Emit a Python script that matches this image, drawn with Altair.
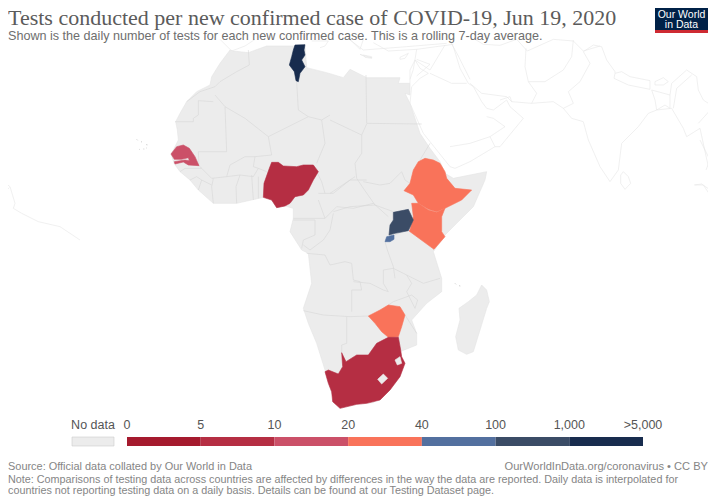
import altair as alt

TITLE = "Tests conducted per new confirmed case of COVID-19, Jun 19, 2020"
SUBTITLE = "Shown is the daily number of tests for each new confirmed case. This is a rolling 7-day average."
SOURCE = "Source: Official data collated by Our World in Data"
CREDIT = "OurWorldInData.org/coronavirus \u2022 CC BY"
NOTE_1 = "Note: Comparisons of testing data across countries are affected by differences in the way the data are reported. Daily data is interpolated for"
NOTE_2 = "countries not reporting testing data on a daily basis. Details can be found at our Testing Dataset page."

BIN_NAMES = ["0-5", "5-10", "10-20", "20-40", "40-100", "100-1000", ">1000", "No data"]
BIN_COLORS = ["#a51a2e", "#b52e43", "#cb5068", "#f9735a", "#53709f", "#3b4c66", "#182c4e", "#ececec"]
TICK_LABELS = ["0", "5", "10", "20", "40", "100", "1,000", ">5,000"]

# Outlines, as (origin x, origin y, points at 3x)
AFRICA = [
 (130,40,[(300,30),(270,70),(245,110),(240,135),(200,155),(170,185),(150,220),(137,245),(142,270),(145,300),(130,330),(123,342),(133,372),(150,395),(180,420),(205,450),(250,490),(320,490),(400,472),(425,480),(440,503),(465,498),(490,505)]),
 (270,160,[(70,175),(60,215),(95,270)]),
 (260,220,[(145,100),(150,145),(155,190),(130,265),(145,310),(170,370),(195,450),(215,520),(240,565),(290,553),(340,548),(390,510),(430,440),(420,395),(470,375),(470,340),(455,300),(500,250),(545,215),(545,175),(520,95),(555,45)]),
 (330,40,[(380,550),(430,500),(465,420),(470,395),(420,405),(370,415),(345,400),(330,365),(300,325),(270,280),(240,190),(225,160),(240,165),(240,130),(205,130)]),
 (200,36,[(600,125),(560,125),(500,125),(450,100),(430,125),(380,110),(320,95),(315,30),(275,30),(200,30),(145,50),(100,45)]),
]
MADAGASCAR = (260,220,[(665,195),(680,210),(688,245),(680,265),(660,330),(640,395),(620,403),(595,390),(587,350),(600,300),(597,265),(625,245),(650,225)])

AFRICA_BORDERS = [
 (130,40,[(355,30),(358,75),(320,95),(270,125),(255,140),(210,155),(170,185)]),
 (130,40,[(135,245),(190,245),(190,235),(205,225),(205,182),(250,185)]),
 (130,40,[(255,165),(285,200),(290,335),(205,335),(207,377)]),
 (130,40,[(285,200),(345,235),(415,290),(535,230),(505,210),(500,125)]),
 (130,40,[(415,290),(425,345),(375,350),(345,350),(300,375),(290,410),(245,415),(215,385),(207,377)]),
 (130,40,[(535,230),(575,240),(600,225)]),
 (130,40,[(575,240),(585,310),(560,370)]),
 (130,40,[(375,350),(370,380),(385,385),(410,395)]),
 (130,40,[(290,410),(330,405),(370,410),(385,385)]),
 (130,40,[(250,415),(245,440),(250,490)]),
 (130,40,[(320,490),(318,440),(330,405)]),
 (130,40,[(365,405),(370,480)]),
 (130,40,[(385,410),(385,475)]),
 (130,40,[(150,395),(165,385),(215,385)]),
 (130,40,[(180,420),(200,410),(215,420),(245,435)]),
 (130,40,[(205,450),(215,420)]),
 (330,40,[(108,105),(110,250),(275,252)]),
 (330,40,[(110,252),(95,285),(0,240)]),
 (330,40,[(95,285),(95,340),(75,370),(80,415),(100,445),(135,495),(190,515)]),
 (330,40,[(100,425),(150,435),(180,430),(215,395),(225,420),(240,430)]),
 (330,40,[(75,410),(0,460)]),
 (330,40,[(10,515),(60,500),(135,495)]),
 (330,40,[(300,310),(270,360)]),
 (270,160,[(140,35),(155,65),(165,100)]),
 (270,160,[(145,100),(190,100),(240,60),(290,60)]),
 (270,160,[(145,120),(165,175),(90,175),(70,175)]),
 (270,160,[(165,175),(200,140),(250,145),(310,130),(355,170)]),
 (270,160,[(190,160),(180,210),(160,240),(120,270),(100,255)]),
 (270,160,[(70,180),(135,180),(135,225),(100,240),(95,265)]),
 (270,160,[(345,245),(352,270),(370,320),(375,355)]),
 (270,160,[(372,225),(415,210)]),
 (260,220,[(140,100),(195,105),(210,135),(255,125),(275,130),(280,180),(300,185),(305,210),(275,210),(275,275)]),
 (260,220,[(130,272),(190,285),(270,290),(325,288)]),
 (260,220,[(280,185),(330,190),(370,210),(385,215),(370,190),(370,150),(400,145),(430,160),(440,165),(490,190),(540,175)]),
 (260,220,[(440,165),(455,190),(440,215),(465,265),(473,240),(455,225),(400,245),(385,255)]),
 (260,220,[(260,290),(260,370),(245,375),(245,398)]),
 (260,220,[(435,285),(470,340)]),
 (260,220,[(415,350),(422,390)]),
]

SENEGAL = (130,40,[(123,342),(140,320),(160,315),(178,325),(195,350),(207,377),(175,375),(160,366),(135,372),(133,365),(165,360),(178,362),(175,353),(155,358),(133,358)])
NIGERIA = (130,40,[(400,472),(402,430),(418,385),(425,367),(445,367),(460,378),(500,380),(520,375),(550,375),(565,395),(550,420),(535,450),(520,465),(495,470),(480,490),(465,498),(440,503),(425,480)])
TUNISIA = (130,40,[(495,15),(525,14),(522,30),(525,45),(515,60),(525,80),(510,100),(505,125),(498,122),(493,95),(478,75),(485,50),(490,30)])
ETHIOPIA = (330,40,[(222,452),(240,430),(250,390),(265,365),(285,355),(310,360),(330,370),(345,395),(350,415),(375,445),(425,450),(395,480),(345,505),(320,515),(295,508),(265,490),(250,465)])
KENYA = (330,40,[(240,570),(250,530),(245,490),(265,490),(295,510),(320,517),(345,505),(335,530),(335,575),(345,590),(312,628),(237,573)])
UGANDA = (270,160,[(370,157),(415,148),(430,180),(415,212),(375,220),(357,225),(360,195),(370,180)])
RWANDA = (270,160,[(345,245),(350,230),(372,225),(372,238),(360,245)])
ZIMBABWE = (260,220,[(325,288),(360,270),(385,255),(420,260),(435,285),(425,320),(415,350),(385,352),(365,335),(345,310)])
SOUTH_AFRICA = (260,220,[(195,455),(205,450),(235,462),(248,440),(245,398),(258,425),(290,405),(325,405),(350,370),(385,352),(415,352),(422,390),(425,410),(435,430),(420,470),(390,510),(360,540),(320,550),(290,553),(240,565),(218,545),(215,515),(205,490)])
LESOTHO = (260,220,[(353,478),(370,462),(383,475),(365,492)])
ESWATINI = (260,220,[(405,420),(420,410),(425,430),(412,435)])

COUNTRY_BINS = [(SENEGAL,"10-20"),(NIGERIA,"5-10"),(TUNISIA,">1000"),(ETHIOPIA,"20-40"),(KENYA,"20-40"),
                (UGANDA,"100-1000"),(RWANDA,"40-100"),(ZIMBABWE,"20-40"),(SOUTH_AFRICA,"5-10"),
                (LESOTHO,"No data"),(ESWATINI,"No data")]

OTHER_LINES = [
 (330,40,[(245,140),(240,190),(280,280),(360,380),(375,385),(420,365),(495,320),(510,320),(580,235),(540,200),(530,180),(510,195),(490,210),(470,205),(455,185),(430,140),(415,130),(390,85),(370,20),(360,0)]),
 (330,40,[(360,320),(420,310),(480,290),(495,320)]),
 (330,40,[(480,290),(525,260),(490,235),(470,230)]),
 (330,40,[(300,100),(365,130),(410,130)]),
 (330,40,[(245,140),(270,115),(295,100),(270,85),(255,60),(240,90),(240,130)]),
 (330,40,[(255,60),(300,90),(345,15)]),
 (330,40,[(60,0),(100,30),(230,20),(350,10)]),
 (330,40,[(100,45),(125,50),(125,55),(105,52),(100,45)]),
 (330,40,[(210,52),(235,40),(225,55),(210,58),(210,52)]),
 (330,40,[(420,130),(455,160),(530,170),(545,185)]),
 (500,40,[(0,180),(30,170),(35,185),(95,190),(160,185),(190,205),(215,235),(250,245),(265,300),(300,380),(330,425),(355,390),(365,310),(415,260),(445,220),(470,210),(515,205),(550,265),(560,290),(600,265),(625,380)]),
 (500,40,[(78,25),(75,80),(85,125),(110,160),(95,190)]),
 (500,40,[(85,125),(135,125),(190,90),(215,50),(220,0)]),
 (500,40,[(190,205),(220,190),(205,155),(240,125),(270,70),(250,35),(280,15),(305,20),(320,60),(345,95),(345,100),(342,115),(385,135),(450,148),(450,122),(390,110),(365,95),(345,100)]),
 (500,40,[(465,125),(490,113),(505,125),(490,135),(465,135),(465,125)]),
 (500,40,[(455,150),(510,165),(510,205),(495,195),(470,210),(465,180),(455,150)]),
 (500,40,[(510,165),(515,130),(560,90),(590,110),(595,150),(610,180),(640,200),(595,250)]),
 (500,40,[(520,205),(530,145),(575,105)]),
 (500,40,[(370,395),(385,410),(392,430),(375,448),(362,430),(362,405),(370,395)]),
 (500,40,[(585,435),(610,435),(650,495)]),
 (450,36,[(0,15),(25,60),(60,130)]),
 (450,36,[(75,10),(100,25),(150,28),(200,10),(232,45),(310,10),(370,15),(400,45),(450,30)]),
 (620,140,[(240,0),(270,60),(258,90)]),
 (620,140,[(222,135),(245,132),(285,160)]),
 (200,36,[(60,10),(95,45),(135,30),(165,10)]),
 (200,36,[(335,15),(385,15),(375,30),(360,35)]),
 (200,36,[(450,10),(480,40),(490,10)]),
 (200,36,[(480,55),(515,65),(495,62),(480,55)]),
 (200,36,[(520,20),(565,45),(650,40),(760,25)]),
 (200,36,[(650,40),(640,100),(630,130)]),
 (200,36,[(650,70),(690,85),(650,120)]),
 (0,40,[(5,420),(30,440),(45,490),(40,505),(65,520),(115,545),(180,560),(240,600)]),
 (0,40,[(5,465),(28,443)]),
]
ISLANDS = [
 (0,40,[(410,298),(413,301)]), (0,40,[(423,305),(426,306)]), (0,40,[(440,312),(441,316)]),
 (0,40,[(418,328),(420,329)]), (0,40,[(430,327),(433,327)]), (0,40,[(438,324),(440,324)]),
 (260,220,[(585,190),(588,193)]), (260,220,[(597,197),(601,198)]),
]


def pts(path):
    ox, oy, raw = path
    return [[ox + x / 3, oy + y / 3] for x, y in raw]


def poly(path):
    ring = pts(path)
    return {"type": "Polygon", "coordinates": [ring + [ring[0]]]}


def feature(geom, **props):
    return {"type": "Feature", "geometry": geom, "properties": props}


def joined(paths):
    out = []
    for p in paths:
        out += pts(p)
    return {"type": "Polygon", "coordinates": [out + [out[0]]]}


def lines(paths):
    return {"type": "MultiLineString", "coordinates": [pts(p) for p in paths]}


PROJ = dict(type="identity", scale=1, translate=[-8, -8])
color_scale = alt.Scale(domain=BIN_NAMES, range=BIN_COLORS)

other = alt.Chart(alt.Data(values=[feature(lines(OTHER_LINES))])).mark_geoshape(
    filled=False, stroke="#e6e6e6", strokeWidth=0.6).project(**PROJ)
land = alt.Chart(alt.Data(values=[feature(joined(AFRICA)), feature(poly(MADAGASCAR))])).mark_geoshape(
    fill="#ececec", stroke="#e4e4e4", strokeWidth=0.6).project(**PROJ)
borders = alt.Chart(alt.Data(values=[feature(lines(AFRICA_BORDERS))])).mark_geoshape(
    filled=False, stroke="#d6d6d6", strokeWidth=0.6).project(**PROJ)
isles = alt.Chart(alt.Data(values=[feature(lines(ISLANDS))])).mark_geoshape(
    filled=False, stroke="#d0d0d0", strokeWidth=1).project(**PROJ)
countries = alt.Chart(alt.Data(values=[feature(poly(p), bin=b) for p, b in COUNTRY_BINS])).mark_geoshape(
    strokeWidth=0.6).encode(
    color=alt.Color("properties.bin:N", scale=color_scale, legend=None),
    stroke=alt.Stroke("properties.bin:N", scale=color_scale, legend=None),
).project(**PROJ)

x_scale = alt.Scale(domain=[0, 7], range=[119, 635])
swatch_rows = [{"a": i, "b": i + 1, "bin": BIN_NAMES[i]} for i in range(7)]
tick_rows = [{"a": i, "t": t} for i, t in enumerate(TICK_LABELS)]
swatches = alt.Chart(alt.Data(values=swatch_rows)).mark_rect().encode(
    x=alt.X("a:Q", scale=x_scale, axis=None),
    x2="b:Q",
    y=alt.value(429), y2=alt.value(438),
    color=alt.Color("bin:N", scale=color_scale, legend=None),
)
ticks = alt.Chart(alt.Data(values=tick_rows)).mark_text(
    font="Liberation Sans", fontSize=12.5, color="#555555", baseline="alphabetic", align="center"
).encode(x=alt.X("a:Q", scale=x_scale, axis=None), y=alt.value(421), text="t:N")


def one():
    return alt.Chart(alt.Data(values=[{"k": 1}]))


def label(txt, x, y, size, color="#6e6e6e", font="Liberation Sans", align="left"):
    return one().mark_text(text=txt, font=font, fontSize=size, color=color, align=align,
                           baseline="alphabetic").encode(x=alt.value(x), y=alt.value(y))


def box(x, x2, y, y2, fill, stroke=None):
    kw = dict(fill=fill)
    if stroke:
        kw.update(stroke=stroke, strokeWidth=0.6)
    return one().mark_rect(**kw).encode(x=alt.value(x), x2=alt.value(x2), y=alt.value(y), y2=alt.value(y2))


parts = [
    other, land, borders, isles, countries, swatches, ticks,
    box(64, 106, 429, 438, "#ececec", "#cccccc"),
    label("No data", 85, 421, 12.5, "#555555", align="center"),
    label(TITLE, 0, 17, 22, "#5b5b5b", "Liberation Serif"),
    label(SUBTITLE, 0, 32, 12.6),
    label(SOURCE, 0, 462, 10.95, "#858585"),
    label(CREDIT, 700, 462, 11.1, "#858585", align="right"),
    label(NOTE_1, 0, 474.5, 10.8, "#858585"),
    label(NOTE_2, 0, 486, 10.8, "#858585"),
    box(647, 700, 0, 25, "#002147"),
    box(647, 700, 22, 25, "#ce2a32"),
    label("Our World", 673.5, 9.5, 10.5, "#ffffff", align="center"),
    label("in Data", 673.5, 20, 10.5, "#ffffff", align="center"),
]

chart = alt.layer(*parts).properties(
    width=700, height=491, padding=0,
    autosize=alt.AutoSizeParams(type="none"),
    background="#ffffff",
).configure_view(stroke=None)

chart.save("out.html", embed_options={"renderer": "svg", "actions": False})
